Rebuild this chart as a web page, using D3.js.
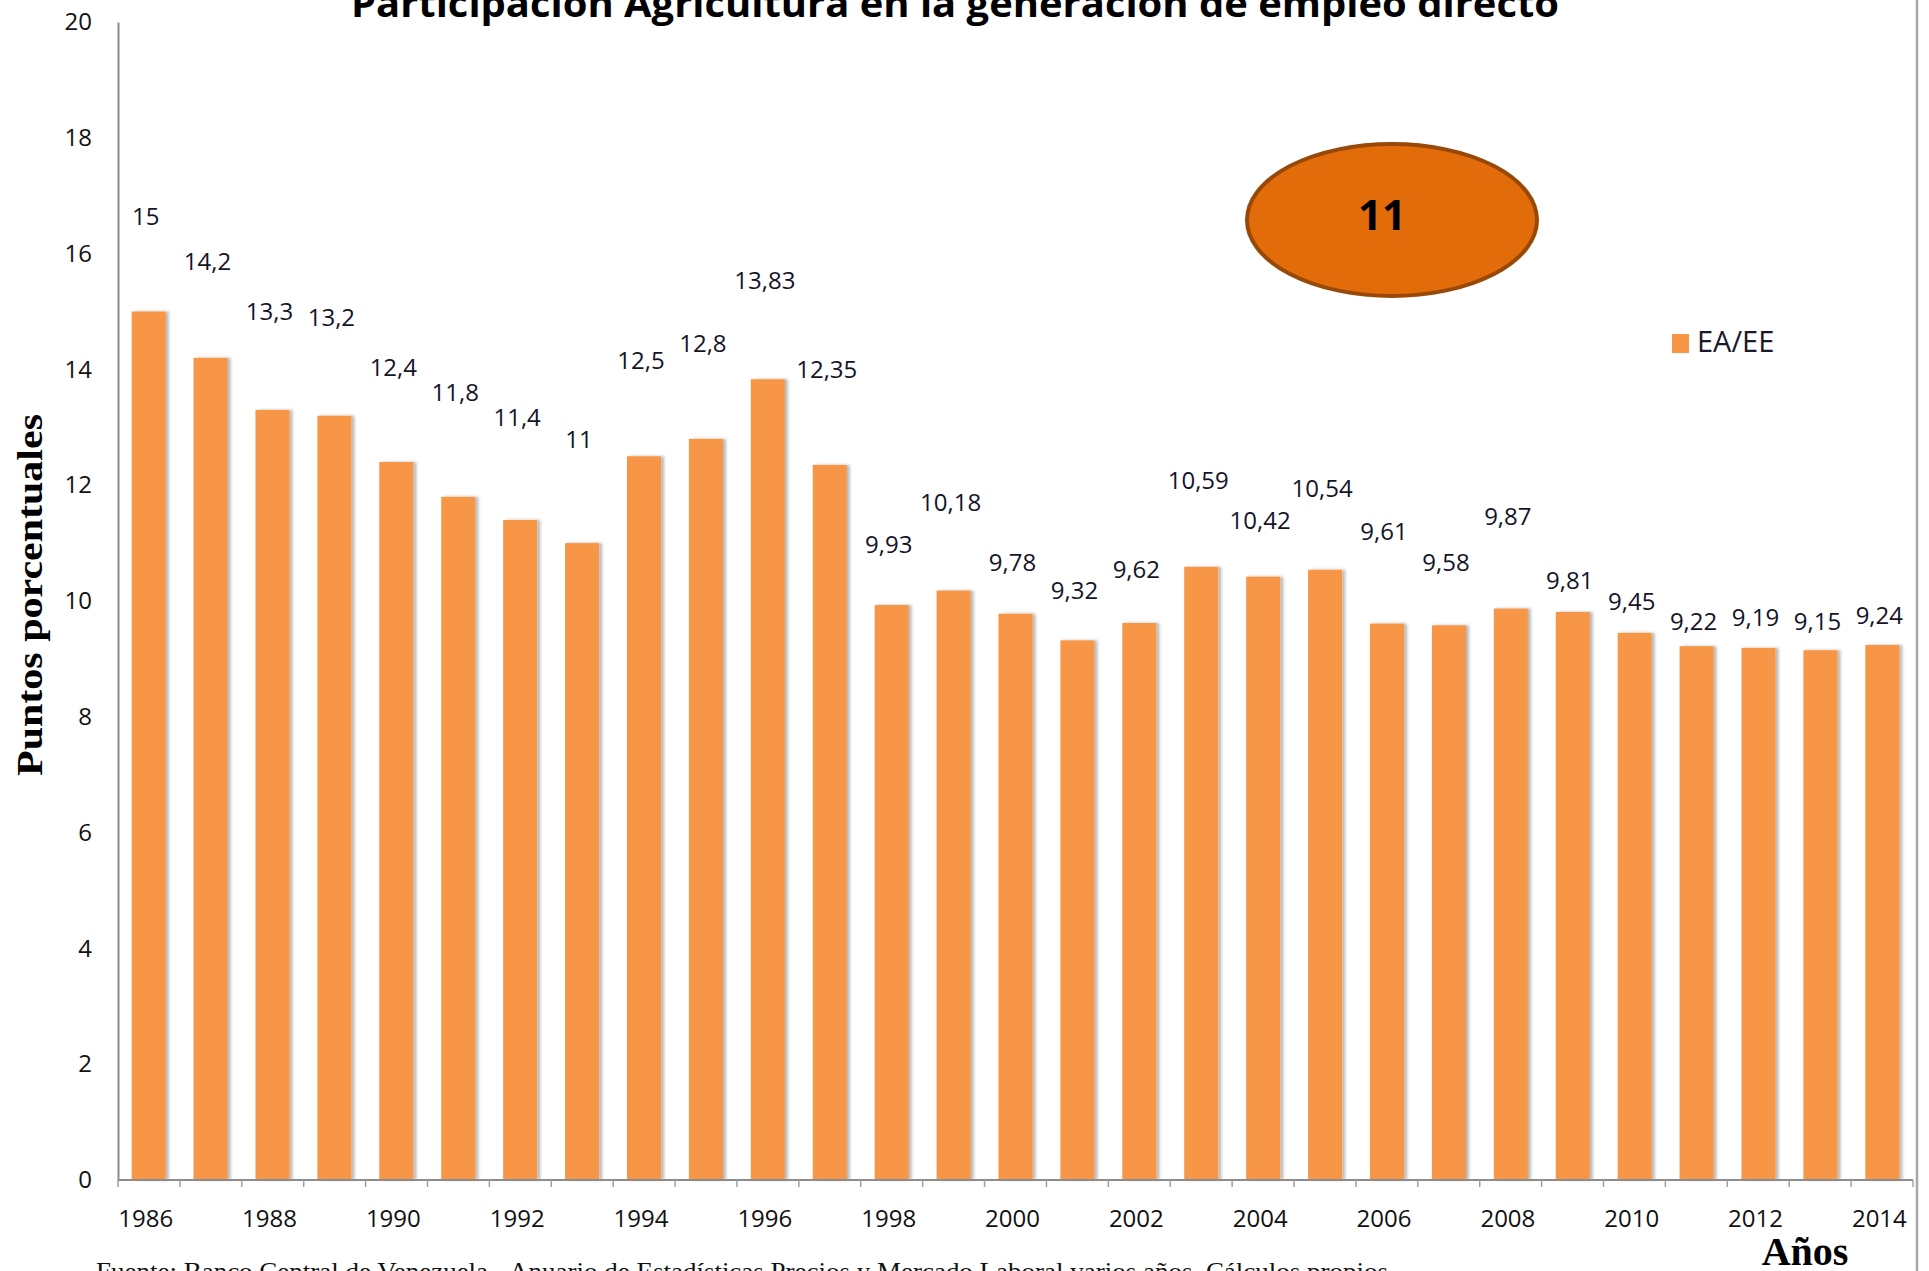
<!DOCTYPE html>
<html>
<head>
<meta charset="utf-8">
<script src="https://cdn.jsdelivr.net/npm/d3@7"></script>
<style>
  html, body { margin: 0; padding: 0; background: #fff; overflow: hidden; }
  svg { display: block; }
</style>
</head>
<body>
<script>
// data
const years = [1986, 1987, 1988, 1989, 1990, 1991, 1992, 1993, 1994, 1995,
  1996, 1997, 1998, 1999, 2000, 2001, 2002, 2003, 2004, 2005, 2006, 2007,
  2008, 2009, 2010, 2011, 2012, 2013, 2014];
const eaEE = [15, 14.2, 13.3, 13.2, 12.4, 11.8, 11.4, 11, 12.5, 12.8,
  13.83, 12.35, 9.93, 10.18, 9.78, 9.32, 9.62, 10.59, 10.42, 10.54, 9.61, 9.58,
  9.87, 9.81, 9.45, 9.22, 9.19, 9.15, 9.24];
const yTicks = [0, 2, 4, 6, 8, 10, 12, 14, 16, 18, 20];
const xTickYears = [1986, 1988, 1990, 1992, 1994, 1996, 1998, 2000, 2002,
  2004, 2006, 2008, 2010, 2012, 2014];
const seriesName = "EA/EE";
const highlight = "11";
const title = "Participación Agricultura en la generación de empleo directo";
const yTitle = "Puntos porcentuales";
const xTitle = "Años";
const source = "Fuente: Banco Central de Venezuela - Anuario de Estadísticas Precios y Mercado Laboral varios años. Cálculos propios";

// labels were dragged by hand in the original, lift above bar in value units
const labelLift = [1.64, 1.66, 1.70, 1.70, 1.63, 1.80, 1.78, 1.80, 1.65, 1.65,
  1.71, 1.65, 1.04, 1.53, 0.89, 0.86, 0.92, 1.50, 0.97, 1.40, 1.59, 1.09,
  1.60, 0.54, 0.54, 0.43, 0.52, 0.50, 0.52];

function main() {
  const W = 1929, H = 1271;
  const plot = {left: 118, right: 1913, top: 22, bottom: 1180};
  const barColor = "#F79646";
  const sans = "'Open Sans', 'Noto Sans', sans-serif";
  const serif = "'Liberation Serif', 'DejaVu Serif', serif";

  const svg = d3.select("body").append("svg")
    .attr("width", W).attr("height", H);

  // soft shadow to the right of bars like the excel chart
  const defs = svg.append("defs");
  const f = defs.append("filter").attr("id", "shadow")
    .attr("x", "-20%").attr("y", "-5%").attr("width", "150%").attr("height", "110%");
  f.append("feDropShadow").attr("dx", 3).attr("dy", 0)
    .attr("stdDeviation", 1.8).attr("flood-color", "#000").attr("flood-opacity", 0.28);

  const x = d3.scaleBand().domain(years).range([plot.left, plot.right])
    .paddingInner(0.45).paddingOuter(0.22);
  const y = d3.scaleLinear().domain([0, 20]).range([plot.bottom, plot.top]);

  const loc = d3.formatLocale({decimal: ",", thousands: ".", grouping: [3], currency: ["", ""]});
  const fmt = loc.format("~g");

  // bars
  svg.append("g").selectAll("rect")
    .data(eaEE)
    .enter().append("rect")
    .attr("x", (d, i) => x(years[i]))
    .attr("y", d => y(d))
    .attr("width", x.bandwidth())
    .attr("height", d => y(0) - y(d))
    .attr("fill", barColor)
    .attr("filter", "url(#shadow)");

  // y axis (line only, no ticks)
  const yAxis = svg.append("g")
    .attr("transform", "translate(" + plot.left + ",0)")
    .call(d3.axisLeft(y).tickValues(yTicks).tickSize(0).tickPadding(26));
  yAxis.select(".domain").attr("stroke", "#8c8c8c").attr("stroke-width", 2);
  yAxis.selectAll("text").attr("font-family", sans).attr("font-size", 24).attr("fill", "#111");

  // x axis: ticks between categories
  const xb = svg.append("g").attr("transform", "translate(0," + plot.bottom + ")");
  xb.append("line").attr("x1", plot.left).attr("x2", plot.right)
    .attr("stroke", "#8c8c8c").attr("stroke-width", 2);
  const step = x.step();
  xb.selectAll("line.tk")
    .data(years.concat([null]))
    .enter().append("line").attr("class", "tk")
    .attr("x1", (d, i) => plot.left + i * (plot.right - plot.left) / years.length)
    .attr("x2", (d, i) => plot.left + i * (plot.right - plot.left) / years.length)
    .attr("y1", 0).attr("y2", 7)
    .attr("stroke", "#a0a0a0").attr("stroke-width", 1.5);

  const xAxis = svg.append("g")
    .attr("transform", "translate(-3," + plot.bottom + ")")
    .call(d3.axisBottom(x).tickValues(xTickYears).tickSize(0).tickPadding(30));
  xAxis.select(".domain").remove();
  xAxis.selectAll("text").attr("font-family", sans).attr("font-size", 24).attr("fill", "#111");

  // data labels
  svg.append("g").selectAll("text")
    .data(eaEE)
    .enter().append("text")
    .attr("x", (d, i) => x(years[i]) + x.bandwidth() / 2 - 3)
    .attr("y", (d, i) => y(d + labelLift[i]))
    .attr("dy", "0.36em")
    .attr("text-anchor", "middle")
    .attr("font-family", sans).attr("font-size", 24).attr("fill", "#141428")
    .text(d => fmt(d));

  // title (cut at the top in the original)
  svg.append("text")
    .attr("x", 955).attr("y", 17)
    .attr("text-anchor", "middle")
    .attr("font-family", sans).attr("font-weight", "bold").attr("font-size", 38)
    .attr("textLength", 1208).attr("lengthAdjust", "spacingAndGlyphs")
    .text(title);

  // highlighted ellipse
  svg.append("ellipse")
    .attr("cx", 1392).attr("cy", 220).attr("rx", 145).attr("ry", 76)
    .attr("fill", "#E36C0A").attr("stroke", "#984807").attr("stroke-width", 4);
  svg.append("text")
    .attr("x", 1382).attr("y", 215).attr("dy", "0.36em")
    .attr("text-anchor", "middle")
    .attr("font-family", sans).attr("font-weight", "bold").attr("font-size", 42)
    .attr("fill", "#000")
    .text(highlight);

  // legend
  svg.append("rect").attr("x", 1672).attr("y", 334).attr("width", 17).attr("height", 19)
    .attr("fill", barColor);
  svg.append("text").attr("x", 1697).attr("y", 342).attr("dy", "0.36em")
    .attr("font-family", sans).attr("font-size", 29).attr("fill", "#1a1a2a")
    .text(seriesName);

  // axis titles
  svg.append("text")
    .attr("transform", "translate(42,595) rotate(-90)")
    .attr("text-anchor", "middle")
    .attr("font-family", serif).attr("font-weight", "bold").attr("font-size", 35)
    .attr("textLength", 362).attr("lengthAdjust", "spacingAndGlyphs")
    .text(yTitle);
  svg.append("text")
    .attr("x", 1805).attr("y", 1265)
    .attr("text-anchor", "middle")
    .attr("font-family", serif).attr("font-weight", "bold").attr("font-size", 40)
    .text(xTitle);

  // source note, cut off by the bottom edge
  svg.append("text")
    .attr("x", 96).attr("y", 1280)
    .attr("font-family", serif).attr("font-size", 26).attr("fill", "#111")
    .attr("textLength", 1292).attr("lengthAdjust", "spacingAndGlyphs")
    .text(source);

  // right frame edge
  svg.append("line").attr("x1", 1917).attr("x2", 1917).attr("y1", 0).attr("y2", H)
    .attr("stroke", "#a8a8a8").attr("stroke-width", 2.5);
}

main();
</script>
</body>
</html>
